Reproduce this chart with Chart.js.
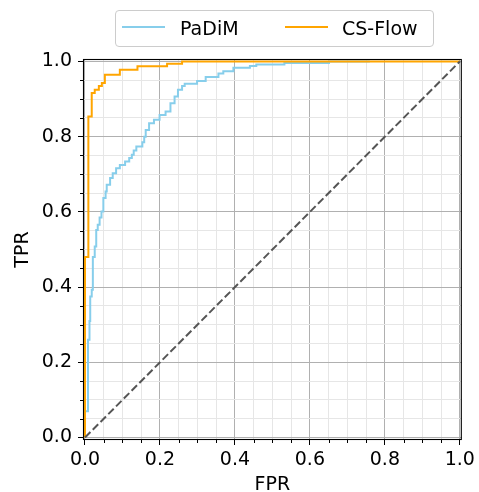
<!DOCTYPE html>
<html>
<head>
<meta charset="utf-8">
<script src="https://cdn.jsdelivr.net/npm/chart.js@4/dist/chart.umd.min.js"></script>
<style>
html,body{margin:0;padding:0;background:#fff;}
#wrap{position:relative;width:479px;height:492px;}
#legend{position:absolute;left:115px;top:10px;width:317px;height:35px;border:1px solid #cccccc;border-radius:4px;background:#fff;font-family:"DejaVu Sans",sans-serif;font-size:19px;color:#000;}
#legend .sw{position:absolute;height:2px;top:15px;}
#legend .tx{position:absolute;top:0;height:35px;line-height:35px;white-space:nowrap;}
</style>
</head>
<body>
<div id="wrap">
<canvas id="c" width="479" height="492"></canvas>
<div id="legend">
  <div class="sw" style="left:6px;width:43px;background:#87CEEB"></div>
  <div class="tx" style="left:64px">PaDiM</div>
  <div class="sw" style="left:169px;width:43px;background:#FFA500"></div>
  <div class="tx" style="left:226px">CS-Flow</div>
</div>
</div>
<script>
// ---- data ----
const fprPaDiM = [0,0,0.008,0.008,0.012,0.012,0.014,0.014,0.018,0.018,0.021,0.021,0.026,0.026,0.030,0.030,0.034,0.034,0.039,0.039,0.044,0.044,0.049,0.049,0.055,0.055,0.058,0.058,0.067,0.067,0.074,0.074,0.083,0.083,0.093,0.093,0.107,0.107,0.118,0.118,0.125,0.125,0.130,0.130,0.137,0.137,0.153,0.153,0.158,0.158,0.162,0.162,0.171,0.171,0.184,0.184,0.199,0.199,0.215,0.215,0.228,0.228,0.239,0.239,0.248,0.248,0.259,0.259,0.266,0.266,0.299,0.299,0.322,0.322,0.356,0.356,0.369,0.369,0.396,0.396,0.440,0.440,0.457,0.457,0.532,0.532,0.651,0.651,0.760,0.760,1.0];
const tprPaDiM = [0,0.07,0.07,0.26,0.26,0.31,0.31,0.375,0.375,0.393,0.393,0.48,0.48,0.508,0.508,0.552,0.552,0.566,0.566,0.585,0.585,0.601,0.601,0.637,0.637,0.654,0.654,0.672,0.672,0.690,0.690,0.703,0.703,0.716,0.716,0.725,0.725,0.734,0.734,0.743,0.743,0.752,0.752,0.763,0.763,0.774,0.774,0.785,0.785,0.800,0.800,0.818,0.818,0.836,0.836,0.845,0.845,0.858,0.858,0.867,0.867,0.889,0.889,0.907,0.907,0.925,0.925,0.935,0.935,0.941,0.941,0.948,0.948,0.959,0.959,0.968,0.968,0.974,0.974,0.983,0.983,0.988,0.988,0.992,0.992,0.996,0.996,1.0,1.0];
const fprCSFlow = [0,0,0.009,0.009,0.018,0.018,0.026,0.026,0.037,0.037,0.045,0.045,0.053,0.053,0.093,0.093,0.140,0.140,0.219,0.219,0.259,0.259,1.0];
const tprCSFlow = [0,0.48,0.48,0.854,0.854,0.916,0.916,0.925,0.925,0.935,0.935,0.943,0.943,0.965,0.965,0.978,0.978,0.987,0.987,0.994,0.994,1.0,1.0];
const chanceX = [0,1];
const chanceY = [0,1];
const majorTicks = [0,0.2,0.4,0.6,0.8,1.0];
const majorLabels = ['0.0','0.2','0.4','0.6','0.8','1.0'];
const minorTicks = [0.05,0.1,0.15,0.25,0.3,0.35,0.45,0.5,0.55,0.65,0.7,0.75,0.85,0.9,0.95];

const allTicks = majorTicks.concat(minorTicks).sort((a,b)=>a-b);
const isMajor = v => majorTicks.some(m => Math.abs(m - v) < 1e-9);
const labelFor = v => { const i = majorTicks.findIndex(m => Math.abs(m - v) < 1e-9); return i >= 0 ? majorLabels[i] : ''; };
const pts = (xs, ys) => xs.map((x, i) => ({x: x, y: ys[i]}));

const FONT = {family: 'DejaVu Sans', size: 19};

const framePlugin = {
  id: 'frame',
  afterDatasetsDraw(chart) {
    const {ctx, chartArea: a, scales: {x, y}} = chart;
    ctx.save();
    ctx.strokeStyle = '#000';
    // minor tick marks
    ctx.beginPath();
    minorTicks.forEach(v => {
      const px = Math.round(x.getPixelForValue(v)) + 0.5;
      ctx.moveTo(px, a.bottom); ctx.lineTo(px, a.bottom + 3);
      const py = Math.round(y.getPixelForValue(v)) + 0.5;
      ctx.moveTo(a.left, py); ctx.lineTo(a.left - 3, py);
    });
    ctx.lineWidth = 1;
    ctx.stroke();
    ctx.lineWidth = 1.1;
    ctx.strokeRect(a.left + 0.5, a.top + 0.5, a.right - a.left - 1, a.bottom - a.top - 1);
    ctx.restore();
  }
};

const gridOpts = {
  color: c => (c.tick && isMajor(c.tick.value)) ? '#b0b0b0' : '#e6e6e6',
  lineWidth: 1,
  tickColor: c => (c.tick && isMajor(c.tick.value)) ? '#000' : 'rgba(0,0,0,0)',
  tickLength: 5,
  tickWidth: 1
};

new Chart(document.getElementById('c'), {
  type: 'scatter',
  data: {
    datasets: [
      {label: 'PaDiM', data: pts(fprPaDiM, tprPaDiM), showLine: true, borderColor: '#87CEEB', backgroundColor: '#87CEEB', borderWidth: 2, pointRadius: 0, tension: 0, order: 3},
      {label: 'CS-Flow', data: pts(fprCSFlow, tprCSFlow), showLine: true, borderColor: '#FFA500', backgroundColor: '#FFA500', borderWidth: 2, pointRadius: 0, tension: 0, order: 2},
      {label: 'chance', data: pts(chanceX, chanceY), showLine: true, borderColor: '#555555', borderWidth: 2, borderDash: [7.7, 3.3], pointRadius: 0, tension: 0, order: 1}
    ]
  },
  options: {
    responsive: false,
    animation: false,
    devicePixelRatio: 1,
    layout: {padding: {top: 59, right: 13, left: 0, bottom: 0}},
    plugins: {legend: {display: false}, tooltip: {enabled: false}},
    scales: {
      x: {
        type: 'linear', min: -0.0053, max: 1.0053,
        afterBuildTicks: s => { s.ticks = allTicks.map(v => ({value: v})); },
        afterFit: s => { s.height = 52; },
        ticks: {autoSkip: false, maxRotation: 0, padding: 4, color: '#000', font: FONT, callback: v => labelFor(v)},
        grid: gridOpts,
        border: {display: false},
        title: {display: true, text: 'FPR', color: '#000', font: {family: 'DejaVu Sans', size: 19, lineHeight: 1}, padding: {top: 0, bottom: -3}}
      },
      y: {
        type: 'linear', min: -0.0066, max: 1.0066,
        afterBuildTicks: s => { s.ticks = allTicks.map(v => ({value: v})); },
        afterFit: s => { s.width = 83; },
        ticks: {autoSkip: false, padding: 6, color: '#000', font: FONT, callback: v => labelFor(v)},
        grid: gridOpts,
        border: {display: false},
        title: {display: true, text: 'TPR', color: '#000', font: {family: 'DejaVu Sans', size: 19, lineHeight: 1}, padding: {top: 14, bottom: 0}}
      }
    }
  },
  plugins: [framePlugin]
});
</script>
</body>
</html>
